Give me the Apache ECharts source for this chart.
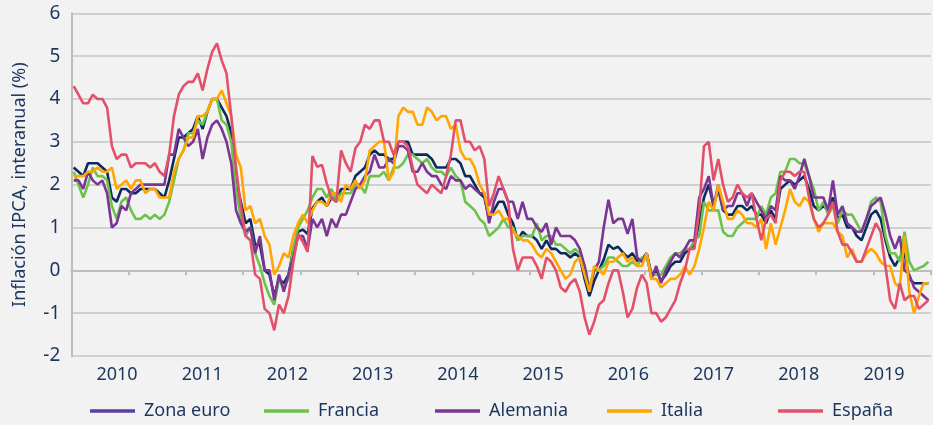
<!DOCTYPE html>
<html>
<head>
<meta charset="utf-8">
<script src="https://cdn.jsdelivr.net/npm/echarts@6/dist/echarts.min.js"></script>
<style>
  html, body { margin: 0; padding: 0; background: #f2f2f2; }
  #chart { width: 933px; height: 425px; }
</style>
</head>
<body>
<div id="chart"></div>
<script>
// Monthly categories, Jan 2006 - Dec 2020
var firstYear = 2006, lastYear = 2020;
var months = [];
for (var y = firstYear; y <= lastYear; y++) {
  for (var m = 1; m <= 12; m++) months.push(y + '-' + (m < 10 ? '0' + m : m));
}

// Tick labels shown under the plot
var yearLabels = ['2010', '2011', '2012', '2013', '2014', '2015', '2016', '2017', '2018', '2019'];

var seriesNames = ['Zona euro', 'Francia', 'Alemania', 'Italia', 'España'];

var zonaEuro = [
  2.4, 2.3, 2.2, 2.5, 2.5, 2.5, 2.4, 2.3, 1.7, 1.6, 1.9, 1.9,
  1.8, 1.8, 1.9, 1.9, 1.9, 1.9, 1.8, 1.7, 2.1, 2.6, 3.1, 3.1,
  3.2, 3.3, 3.6, 3.3, 3.7, 4.0, 4.0, 3.8, 3.6, 3.2, 2.1, 1.6,
  1.1, 1.2, 0.6, 0.6, 0.0, -0.1, -0.6, -0.2, -0.3, -0.1, 0.5, 0.9,
  0.95, 0.85, 1.45, 1.6, 1.7, 1.5, 1.7, 1.6, 1.9, 1.9, 1.9, 2.2,
  2.3, 2.4, 2.7, 2.8, 2.7, 2.7, 2.6, 2.6, 3.0, 3.0, 3.0, 2.7,
  2.7, 2.7, 2.7, 2.6, 2.4, 2.4, 2.4, 2.6, 2.6, 2.5, 2.2, 2.2,
  2.0, 1.8, 1.7, 1.2, 1.4, 1.6, 1.6, 1.3, 1.1, 0.7, 0.9, 0.8,
  0.8, 0.7, 0.5, 0.7, 0.5, 0.5, 0.4, 0.4, 0.3, 0.4, 0.3, -0.2,
  -0.6, -0.25, 0.0, 0.25, 0.6, 0.5, 0.55, 0.42, 0.3, 0.4, 0.22, 0.25,
  0.4, -0.1, 0.0, -0.25, -0.1, 0.1, 0.2, 0.2, 0.4, 0.5, 0.6, 1.1,
  1.7, 2.0, 1.5, 1.9, 1.4, 1.3, 1.3, 1.5, 1.5, 1.4, 1.5, 1.3,
  1.3, 1.1, 1.4, 1.2, 1.9, 2.0, 2.1, 2.0, 2.1, 2.2, 1.9, 1.5,
  1.4, 1.5, 1.4, 1.7, 1.2, 1.3, 1.0, 1.0, 0.8, 0.7, 1.0, 1.3,
  1.4, 1.2, 0.7, 0.3, 0.1, 0.3, 0.4, -0.2, -0.3, -0.3, -0.3, -0.3
];

var francia = [
  2.3, 2.0, 1.7, 2.0, 2.4, 2.2, 2.2, 2.1, 1.5, 1.2, 1.6, 1.7,
  1.4, 1.2, 1.2, 1.3, 1.2, 1.3, 1.2, 1.3, 1.6, 2.1, 2.6, 2.8,
  3.2, 3.2, 3.5, 3.4, 3.7, 4.0, 4.0, 3.5, 3.4, 3.0, 1.9, 1.2,
  0.8, 1.0, 0.4, 0.1, -0.3, -0.6, -0.8, -0.2, -0.4, -0.2, 0.5, 1.0,
  1.2, 1.4, 1.7, 1.9, 1.9, 1.7, 1.9, 1.6, 1.8, 1.8, 1.8, 2.0,
  2.0, 1.8, 2.2, 2.2, 2.2, 2.3, 2.1, 2.4, 2.4, 2.5, 2.7, 2.7,
  2.6, 2.5, 2.6, 2.4, 2.3, 2.3, 2.2, 2.4, 2.2, 2.1, 1.6, 1.5,
  1.4, 1.2, 1.1, 0.8, 0.9, 1.0, 1.2, 1.0, 1.0, 0.7, 0.8, 0.8,
  0.8, 1.1, 0.7, 0.8, 0.8, 0.6, 0.6, 0.5, 0.4, 0.5, 0.4, 0.1,
  -0.4, 0.0, 0.0, 0.1, 0.3, 0.3, 0.2, 0.1, 0.1, 0.2, 0.1, 0.3,
  0.3, -0.1, -0.1, -0.1, 0.1, 0.3, 0.4, 0.4, 0.5, 0.5, 0.7, 0.8,
  1.6, 1.4, 1.4, 1.4, 0.9, 0.8, 0.8, 1.0, 1.1, 1.2, 1.2, 1.2,
  1.5, 1.3, 1.7, 1.8, 2.3, 2.3, 2.6, 2.6, 2.5, 2.5, 2.2, 1.9,
  1.4, 1.6, 1.3, 1.5, 1.1, 1.4, 1.3, 1.3, 1.1, 0.9, 1.2, 1.6,
  1.7, 1.6, 0.8, 0.4, 0.4, 0.2, 0.9, 0.2, 0.0, 0.05, 0.1, 0.2
];

var alemania = [
  2.1, 2.1, 1.9, 2.3, 2.1, 2.0, 2.1, 1.8, 1.0, 1.1, 1.5, 1.4,
  1.8, 1.9, 2.0, 2.0, 2.0, 2.0, 2.0, 2.0, 2.7, 2.7, 3.3, 3.1,
  2.9, 3.0, 3.3, 2.6, 3.1, 3.4, 3.5, 3.3, 3.0, 2.5, 1.4, 1.1,
  0.9, 1.0, 0.4, 0.8, 0.0, 0.0, -0.7, -0.1, -0.5, -0.1, 0.3, 0.8,
  0.8, 0.5, 1.2, 1.0, 1.2, 0.8, 1.2, 1.0, 1.3, 1.3, 1.6, 1.9,
  2.0, 2.2, 2.3, 2.7, 2.4, 2.4, 2.6, 2.5, 2.9, 2.9, 2.8, 2.3,
  2.3, 2.5, 2.3, 2.2, 2.2, 2.0, 1.9, 2.2, 2.1, 2.1, 1.9, 2.0,
  1.9, 1.8, 1.8, 1.1, 1.6, 1.9, 1.9, 1.6, 1.6, 1.2, 1.6, 1.2,
  1.2, 1.0, 0.9, 1.1, 0.6, 1.0, 0.8, 0.8, 0.8, 0.7, 0.5, 0.1,
  -0.5, 0.0, 0.2, 1.0, 1.65, 1.1, 1.2, 1.2, 0.85, 1.2, 0.3, 0.2,
  0.4, -0.2, 0.1, -0.3, 0.0, 0.2, 0.4, 0.3, 0.5, 0.7, 0.7, 1.7,
  1.9, 2.2, 1.5, 2.0, 1.4, 1.5, 1.5, 1.8, 1.8, 1.5, 1.8, 1.6,
  1.4, 1.2, 1.5, 1.4, 2.2, 2.1, 2.1, 1.9, 2.2, 2.6, 2.2, 1.7,
  1.7, 1.7, 1.4, 2.1, 1.3, 1.5, 1.1, 1.0, 0.9, 0.9, 1.2, 1.5,
  1.6, 1.7, 1.3, 0.8, 0.5, 0.8, 0.0, -0.1, -0.4, -0.5, -0.6, -0.7
];

var italia = [
  2.2, 2.2, 2.2, 2.3, 2.3, 2.4, 2.3, 2.3, 2.4, 1.9, 2.0, 2.1,
  1.9, 2.1, 2.1, 1.8, 1.9, 1.9, 1.7, 1.7, 1.7, 2.3, 2.6, 2.8,
  3.1, 3.1, 3.6, 3.6, 3.7, 4.0, 4.0, 4.2, 3.9, 3.6, 2.7, 2.4,
  1.4, 1.5, 1.1, 1.2, 0.8, 0.6, -0.1, 0.1, 0.4, 0.3, 0.8, 1.1,
  1.3, 1.1, 1.4, 1.6, 1.6, 1.5, 1.8, 1.8, 1.6, 2.0, 1.9, 2.1,
  1.9, 2.1, 2.8, 2.9, 3.0, 3.0, 2.1, 2.3, 3.6, 3.8, 3.7, 3.7,
  3.4, 3.4, 3.8, 3.7, 3.5, 3.6, 3.6, 3.3, 3.4, 2.8, 2.6, 2.6,
  2.4, 2.0, 1.8, 1.3, 1.3, 1.4, 1.2, 1.2, 0.9, 0.8, 0.7, 0.7,
  0.6, 0.4, 0.3, 0.5, 0.4, 0.2, 0.0, -0.2, -0.1, 0.2, 0.3, -0.1,
  -0.5, 0.1, 0.0, -0.1, 0.2, 0.2, 0.3, 0.4, 0.2, 0.3, 0.1, 0.1,
  0.4, -0.2, -0.2, -0.4, -0.3, -0.2, -0.2, -0.1, 0.1, -0.1, 0.1, 0.5,
  1.0, 1.6, 1.4, 2.0, 1.6, 1.2, 1.2, 1.4, 1.3, 1.1, 1.1, 1.0,
  1.2, 0.5, 1.1, 0.6, 1.0, 1.4, 1.9, 1.6, 1.5, 1.7, 1.6, 1.2,
  0.9, 1.1, 1.1, 1.1, 0.9, 0.8, 0.3, 0.5, 0.2, 0.2, 0.4, 0.5,
  0.4, 0.2, 0.1, 0.1, -0.3, -0.4, 0.8, -0.5, -1.0, -0.6, -0.3, -0.3
];

var espana = [
  4.3, 4.1, 3.9, 3.9, 4.1, 4.0, 4.0, 3.8, 2.9, 2.6, 2.7, 2.7,
  2.4, 2.5, 2.5, 2.5, 2.4, 2.5, 2.3, 2.2, 2.7, 3.6, 4.1, 4.3,
  4.4, 4.4, 4.6, 4.2, 4.7, 5.1, 5.3, 4.9, 4.6, 3.6, 2.4, 1.5,
  0.8, 0.7, -0.1, -0.2, -0.9, -1.0, -1.4, -0.8, -1.0, -0.6, 0.2, 0.85,
  0.66, 0.43, 2.67, 2.42, 2.46, 2.03, 1.68, 1.6, 2.8, 2.5, 2.3, 2.85,
  3.0, 3.4, 3.3, 3.5, 3.5, 3.0, 3.0, 2.7, 3.0, 3.0, 2.9, 2.4,
  2.0, 1.9, 1.8, 2.0, 1.9, 1.8, 2.2, 2.7, 3.5, 3.5, 3.0, 3.0,
  2.8, 2.9, 2.6, 1.5, 1.8, 2.2, 1.9, 1.6, 0.5, 0.0, 0.3, 0.3,
  0.3, 0.1, -0.2, 0.3, 0.2, 0.0, -0.4, -0.5, -0.3, -0.2, -0.5, -1.1,
  -1.5, -1.2, -0.8, -0.7, -0.3, 0.0, 0.0, -0.5, -1.1, -0.9, -0.4, -0.1,
  -0.3, -1.0, -1.0, -1.2, -1.1, -0.9, -0.7, -0.3, 0.0, 0.5, 0.5, 1.4,
  2.9, 3.0, 2.1, 2.6, 2.0, 1.6, 1.7, 2.0, 1.8, 1.7, 1.8, 1.2,
  0.7, 1.2, 1.3, 1.1, 2.1, 2.3, 2.3, 2.2, 2.3, 2.3, 1.7, 1.2,
  1.0, 1.1, 1.3, 1.6, 0.9, 0.6, 0.6, 0.4, 0.2, 0.2, 0.5, 0.8,
  1.1, 0.9, 0.1, -0.7, -0.9, -0.3, -0.7, -0.6, -0.6, -0.9, -0.8, -0.7
];

var seriesData = [zonaEuro, francia, alemania, italia, espana];
var lineColors = ['#0c2b5c', '#6cc24a', '#7b3595', '#ffa600', '#e2506a'];
var legendColors = ['#5a3fa6', '#6cc24a', '#7b3595', '#ffa600', '#e2506a'];
var legendLeft = [90, 264, 435, 607, 778];

var textColor = '#1b365d';
var gridColor = '#c4c4c4';
var fontFamily = '"Noto Sans", "Open Sans", sans-serif';

var chart = echarts.init(document.getElementById('chart'), null, { renderer: 'canvas' });

var legends = seriesNames.map(function (name, k) {
  return {
    left: legendLeft[k],
    top: 402,
    padding: 0,
    icon: 'rect',
    itemWidth: 45,
    itemHeight: 3.5,
    selectedMode: false,
    textStyle: { color: textColor, fontSize: 18, fontFamily: fontFamily, padding: [0, 0, 0, 4] },
    data: [{ name: name, itemStyle: { color: legendColors[k] } }]
  };
});

var option = {
  backgroundColor: '#f2f2f2',
  animation: false,
  textStyle: { fontFamily: fontFamily },
  legend: legends,
  grid: [
    { left: 71.3, right: 2.2, top: 13.3, bottom: 69, containLabel: false },
    { left: 74.4, right: 6.4, top: 13.3, bottom: 69, containLabel: false }
  ],
  xAxis: [
    {
      type: 'category',
      gridIndex: 0,
      data: months,
      boundaryGap: true,
      axisLine: { show: true, onZero: true, lineStyle: { color: '#bdbdbd', width: 2 } },
      axisTick: { show: true, interval: 11, length: 5, lineStyle: { color: '#bdbdbd', width: 2 } },
      axisLabel: { show: false },
      splitLine: { show: false }
    },
    {
      type: 'category',
      gridIndex: 1,
      data: yearLabels,
      boundaryGap: true,
      position: 'bottom',
      axisLine: { show: false, onZero: false },
      axisTick: { show: false },
      axisLabel: { show: true, interval: 0, color: textColor, fontSize: 18, fontFamily: fontFamily, margin: 10 },
      splitLine: { show: false }
    }
  ],
  yAxis: [
    {
      type: 'value',
      gridIndex: 0,
      min: -2,
      max: 6,
      interval: 1,
      name: 'Inflación IPCA, interanual (%)',
      nameLocation: 'middle',
      nameGap: 42,
      nameRotate: 90,
      nameTextStyle: { color: textColor, fontSize: 18, fontFamily: fontFamily },
      axisLine: { show: true, lineStyle: { color: '#bdbdbd', width: 2 } },
      axisTick: { show: false },
      axisLabel: { color: textColor, fontSize: 19, fontFamily: fontFamily, margin: 11 },
      splitLine: { show: true, lineStyle: { color: gridColor, width: 1.5 } }
    },
    {
      type: 'value',
      gridIndex: 1,
      min: -2,
      max: 6,
      show: false
    }
  ],
  series: seriesNames.map(function (name, k) {
    return {
      name: name,
      type: 'line',
      xAxisIndex: 0,
      yAxisIndex: 0,
      data: seriesData[k],
      symbol: 'none',
      smooth: false,
      lineStyle: { color: lineColors[k], width: 2.6 },
      itemStyle: { color: lineColors[k] },
      emphasis: { disabled: true }
    };
  })
};

chart.setOption(option);
</script>
</body>
</html>
